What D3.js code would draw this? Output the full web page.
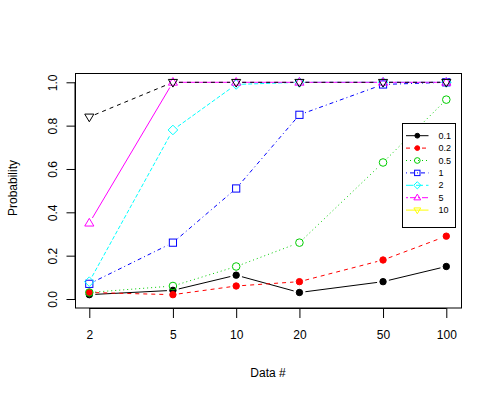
<!DOCTYPE html>
<html><head><meta charset="utf-8">
<script src="https://cdn.jsdelivr.net/npm/d3@7"></script>
<style>body{margin:0;background:#fff}svg{display:block}text{font-family:"Liberation Sans",Arial,sans-serif}</style>
</head><body>
<svg id="c" width="500" height="400"></svg>
<script>
const xValues = [2, 5, 10, 20, 50, 100];
const seriesNames = ["0.1", "0.2", "0.5", "1", "2", "5", "10"];
const s01 = [0.02, 0.04, 0.11, 0.03, 0.08, 0.15];
const s02 = [0.03, 0.02, 0.06, 0.08, 0.18, 0.29];
const s05 = [0.03, 0.06, 0.15, 0.26, 0.63, 0.92];
const s1  = [0.07, 0.26, 0.51, 0.85, 0.99, 1.0];
const s2  = [0.08, 0.78, 0.99, 1.0, 1.0, 1.0];
const s5  = [0.35, 1.0, 1.0, 1.0, 1.0, 1.0];
const s10 = [0.84, 1.0, 1.0, 1.0, 1.0, 1.0];
const seriesValues = [s01, s02, s05, s1, s2, s5, s10];
const yTicks = [0.0, 0.2, 0.4, 0.6, 0.8, 1.0];

const plotColors = ["#000", "#ff0000", "#00cd00", "#0000ff", "#00ffff", "#ff00ff", "#000"];
const legendColors = ["#000", "#ff0000", "#00cd00", "#0000ff", "#00ffff", "#ff00ff", "#ffff00"];
const dashes = ["none", "4,4", "1,3", "1,3,4,3", "4,2", "none", "4,4"];
const legendDashes = ["none", "4,4", "1,3", "1,3,4,3", "7,3", "2,2,6,2", "none"];
const shapes = ["fcircle", "fcircle", "circle", "square", "diamond", "tri", "itri"];

const svg = d3.select("#c");
const x = d3.scaleLog().domain([2, 100]).range([89.3, 446.3]);
const y = d3.scaleLinear().domain([0, 1]).range([299, 82.3]);

function marker(g, shape, cx, cy, col, s) {
  s = s || 1;
  if (shape === "fcircle") {
    g.append("circle").attr("cx", cx).attr("cy", cy).attr("r", 3.2*s).attr("fill", col).attr("stroke", col);
  } else if (shape === "circle") {
    g.append("circle").attr("cx", cx).attr("cy", cy).attr("r", 3.8*s).attr("fill", "none").attr("stroke", col);
  } else if (shape === "square") {
    const h = 3.6*s;
    g.append("rect").attr("x", cx-h).attr("y", cy-h).attr("width", 2*h).attr("height", 2*h).attr("fill", "none").attr("stroke", col);
  } else if (shape === "diamond") {
    const h = 4.8*s;
    g.append("path").attr("d", `M${cx},${cy-h}L${cx+h},${cy}L${cx},${cy+h}L${cx-h},${cy}Z`).attr("fill", "none").attr("stroke", col);
  } else if (shape === "tri") {
    const h = 4.8*s;
    g.append("path").attr("d", `M${cx},${cy-h}L${cx+h*0.95},${cy+h*0.6}L${cx-h*0.95},${cy+h*0.6}Z`).attr("fill", "none").attr("stroke", col);
  } else if (shape === "itri") {
    const h = 4.8*s;
    g.append("path").attr("d", `M${cx},${cy+h}L${cx+h*0.95},${cy-h*0.6}L${cx-h*0.95},${cy-h*0.6}Z`).attr("fill", "none").attr("stroke", col);
  }
}

// plot frame
svg.append("rect").attr("x", 75.5).attr("y", 73.5).attr("width", 386).attr("height", 234.5)
  .attr("fill", "none").attr("stroke", "#000");

// x axis
const xAxis = d3.axisBottom(x).tickValues(xValues).tickFormat(d3.format("d")).tickSize(10).tickPadding(12);
const gx = svg.append("g").attr("transform", "translate(0,308)").call(xAxis);
gx.select(".domain").attr("d", `M${x(2)},0.5H${x(100)}`);
gx.selectAll("text").attr("font-size", 12).attr("fill", "#000").attr("font-family", "Liberation Sans, Arial, sans-serif");
gx.selectAll("line").attr("stroke", "#000");

// y axis
const yAxis = d3.axisLeft(y).tickValues(yTicks).tickFormat(d3.format(".1f")).tickSize(9).tickPadding(0);
const gy = svg.append("g").attr("transform", "translate(75.5,0)").call(yAxis);
gy.select(".domain").attr("d", `M-0.5,${y(0)}V${y(1)}`);
gy.selectAll("line").attr("stroke", "#000");
gy.selectAll("text").attr("font-size", 12).attr("fill", "#000").attr("font-family", "Liberation Sans, Arial, sans-serif")
  .attr("x", 0).attr("dy", 0).attr("text-anchor", "middle")
  .attr("transform", "translate(-22,0) rotate(-90)").attr("dominant-baseline", "middle");

// axis titles
svg.append("text").attr("x", 268).attr("y", 377).attr("text-anchor", "middle").attr("font-size", 12).text("Data #");
svg.append("text").attr("transform", "translate(17,188) rotate(-90)").attr("text-anchor", "middle").attr("font-size", 12).text("Probability");

// series
seriesValues.forEach((vals, k) => {
  const g = svg.append("g");
  // R type "b": gaps around points
  const pts = vals.map((v, i) => [x(xValues[i]), y(v)]);
  for (let i = 0; i < pts.length - 1; i++) {
    const [x1, y1] = pts[i], [x2, y2] = pts[i+1];
    const len = Math.hypot(x2-x1, y2-y1), gap = 6;
    if (len <= 2*gap) continue;
    const ux = (x2-x1)/len, uy = (y2-y1)/len;
    g.append("line").attr("x1", x1+ux*gap).attr("y1", y1+uy*gap).attr("x2", x2-ux*gap).attr("y2", y2-uy*gap)
      .attr("stroke", plotColors[k]).attr("stroke-width", 1).attr("stroke-dasharray", dashes[k]);
  }
  pts.forEach(p => marker(g, shapes[k], p[0], p[1], plotColors[k]));
});

// legend
const lg = svg.append("g");
lg.append("rect").attr("x", 402.5).attr("y", 123.5).attr("width", 53).attr("height", 104)
  .attr("fill", "#fff").attr("stroke", "#000");
seriesNames.forEach((name, k) => {
  const cy = 135.7 + k * 12.4;
  lg.append("line").attr("x1", 406).attr("x2", 428.5).attr("y1", cy).attr("y2", cy)
    .attr("stroke", legendColors[k]).attr("stroke-dasharray", legendDashes[k]);
  marker(lg, shapes[k], 417.3, cy, legendColors[k], 0.75);
  lg.append("text").attr("x", 438.5).attr("y", cy).attr("dy", "0.35em").attr("font-size", 9).text(name);
});
</script>
</body></html>
